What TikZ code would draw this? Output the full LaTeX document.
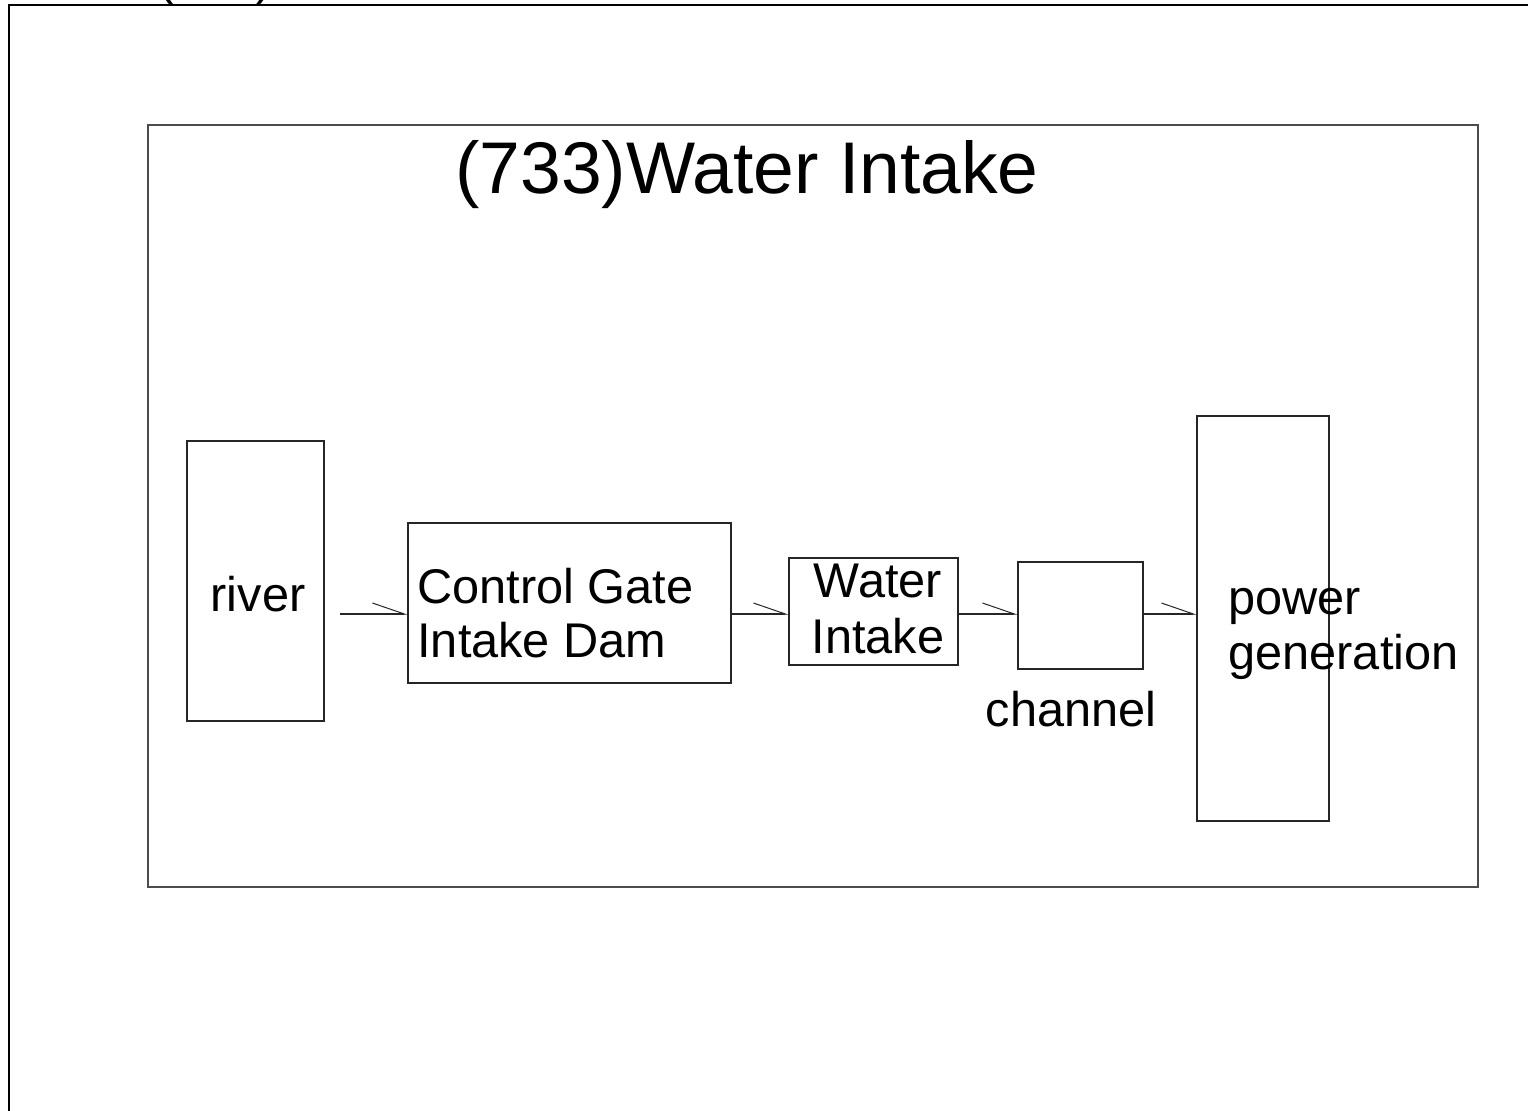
\documentclass[tikz,border=0pt]{standalone}
\usepackage{fontspec}
\setmainfont{Liberation Sans}
\usetikzlibrary{arrows.meta}
\begin{document}
\begin{tikzpicture}[x=0.5pt,y=-0.5pt,
  box/.style={draw=black!85, line width=0.6pt, inner sep=0pt, minimum width=#1},
  lbl/.style={font=\fontsize{24.35pt}{27.5pt}\selectfont, inner sep=0pt, align=left},
  flow/.style={draw=black!85, line width=0.6pt, -{Straight Barb[harpoon, length=16pt, width=11pt, line width=0.5pt]}}
]
\useasboundingbox (0,0) rectangle (1528,1110);
\fill[white] (0,0) rectangle (1528,1110);
% clipped top label
\node[lbl, anchor=base west] (toplbl) at (158,-5) {(733)};
% outer frame
\draw[line width=1.2pt] (9,1120) -- (9,5) -- (1540,5);
% inner frame
\draw[draw=black!70, line width=0.8pt] (148,125) rectangle (1478,887);
\node[font=\fontsize{36.6pt}{40pt}\selectfont, inner sep=0pt, anchor=base west] (title) at (455,193) {(733)Water Intake};
% boxes
\node[box=68.5pt, minimum height=140pt] (river) at (255.5,581) {};
\node[box=161.5pt, minimum height=80pt] (cg) at (569.5,603) {};
\node[box=84.5pt, minimum height=53.5pt] (wi) at (873.5,611.5) {};
\node[box=62.5pt, minimum height=53.5pt] (ch) at (1080.5,615.5) {};
\node[box=66pt, minimum height=202.5pt] (pg) at (1263,618.5) {};
% labels
\node[lbl, anchor=base] (riverl) at (258,611.7) {river};
\node[lbl, anchor=base west] (cgl1) at (417,603) {Control Gate};
\node[lbl, anchor=base west] (cgl2) at (417,657) {Intake Dam};
\node[lbl, anchor=base] (wil1) at (878,597) {Water};
\node[lbl, anchor=base] (wil2) at (878,653) {Intake};
\node[lbl, anchor=base] (chl) at (1071,726) {channel};
\node[lbl, anchor=base west] (pgl1) at (1228,614) {power};
\node[lbl, anchor=base west] (pgl2) at (1228,669) {generation};
% connectors
\coordinate (a1) at (340,614);
\draw[flow] (a1) -- (cg.west |- a1);
\draw[flow] (cg.east |- a1) -- (wi.west |- a1);
\draw[flow] (wi.east |- a1) -- (ch.west |- a1);
\draw[flow] (ch.east |- a1) -- (pg.west |- a1);
\end{tikzpicture}
\end{document}
